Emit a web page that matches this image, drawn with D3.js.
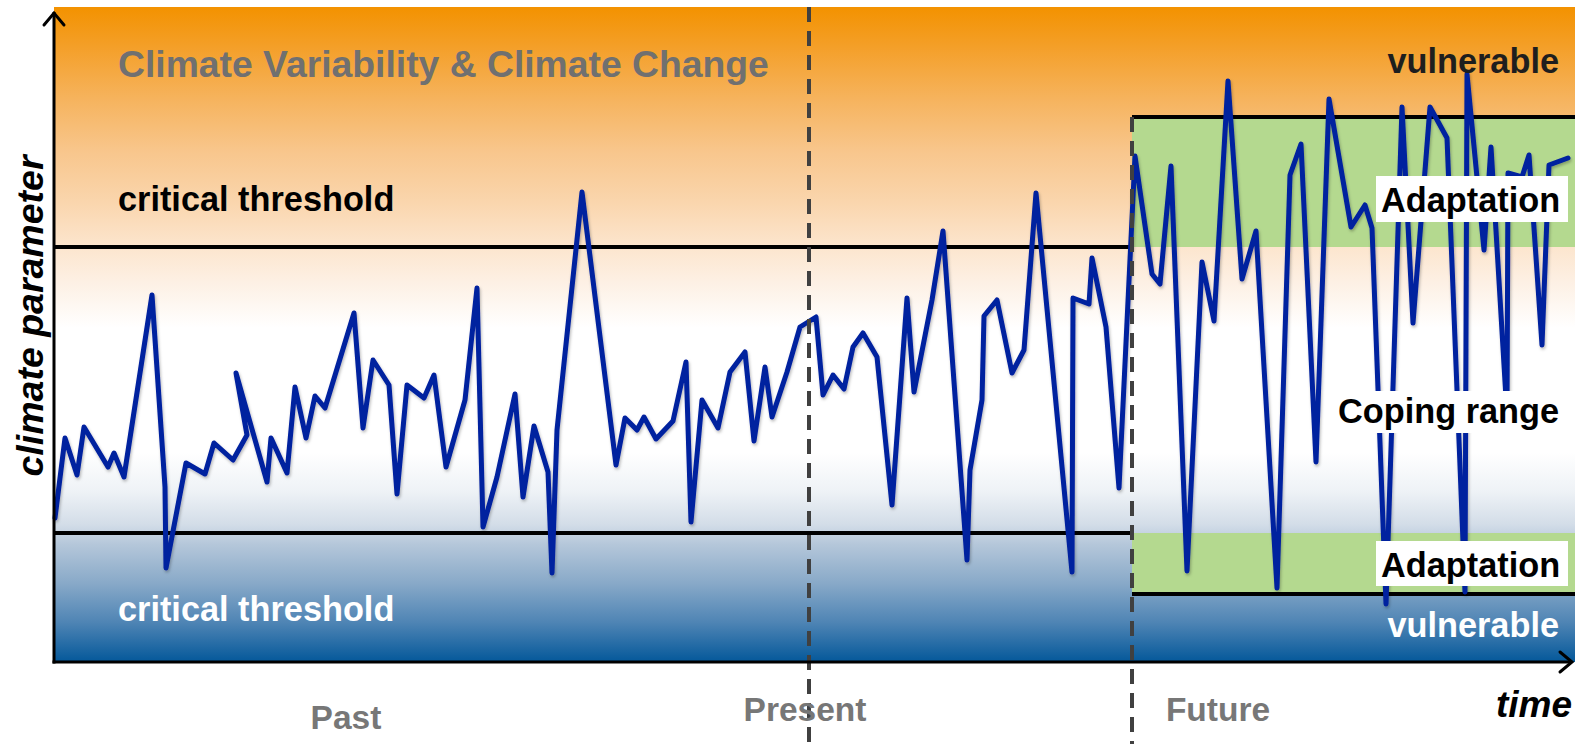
<!DOCTYPE html>
<html>
<head>
<meta charset="utf-8">
<script src="https://cdn.jsdelivr.net/npm/d3@7"></script>
<style>
  html, body { margin: 0; padding: 0; background: #ffffff; }
  svg { display: block; }
  text { font-family: "Liberation Sans", Arial, Helvetica, sans-serif; font-weight: bold; }
</style>
</head>
<body>
<svg id="chart" width="1575" height="744"></svg>
<script>
// ---- data (time units, climate parameter units) ----
const times = [0.1,1.1,2.3,3.0,5.4,6.0,7.0,9.8,11.1,11.2,13.2,15.1,16.0,17.9,19.3,18.2,21.3,21.7,23.3,24.1,
  25.2,26.1,27.1,30.0,30.9,31.9,33.5,34.3,35.3,37.0,38.0,39.2,41.1,42.3,42.9,44.3,46.1,46.9,48.0,49.4,
  49.8,50.3,52.8,56.2,57.1,58.3,59.0,60.2,61.9,63.2,63.7,64.8,66.4,67.6,69.1,70.0,71.1,71.8,73.3,74.6,
  76.2,76.9,77.9,79.0,79.9,80.9,82.3,83.8,85.3,86.0,87.8,88.9,91.3,91.6,92.8,93.0,94.3,95.8,97.0,98.2,
  101.8,101.9,103.5,103.8,105.2,106.5,108.1,109.8,110.6,111.7,113.3,114.8,116.0,117.4,118.8,120.2,122.3,123.6,124.7,126.2,
  127.5,129.7,131.1,131.8,133.2,134.8,135.9,137.6,139.3,141.1,141.3,143.0,143.7,145.3,145.4,146.8,147.5,148.8,149.5,151.4];
const values = [14.4,22.4,18.7,23.5,19.5,20.9,18.5,36.7,17.5,9.4,19.9,18.8,21.9,20.2,22.7,28.9,18.0,22.4,18.9,27.5,
  22.4,26.6,25.4,34.9,23.4,30.2,27.7,16.8,27.7,26.4,28.7,19.5,26.2,37.4,13.5,18.5,26.8,16.5,23.6,19.0,
  8.9,23.2,47.0,19.7,24.4,23.2,24.5,22.3,24.1,30.0,14.0,26.2,23.4,29.0,31.0,22.1,29.5,24.5,29.0,33.5,
  34.5,26.7,28.7,27.3,31.5,32.9,30.5,15.7,36.4,27.0,36.2,43.1,10.2,19.2,26.2,34.6,36.2,28.9,31.2,46.9,
  9.0,36.4,35.8,40.4,33.5,17.4,50.6,38.8,37.8,49.6,9.1,40.0,34.1,58.1,38.3,43.1,7.4,48.7,51.8,20.0,
  56.3,43.5,45.7,43.4,5.8,55.5,33.9,55.5,52.4,7.0,58.8,41.2,51.5,24.7,48.9,48.5,50.7,31.7,49.7,50.4];

const timeDomain = [0, 152.1];
const valueDomain = [0, 65.5];
const thresholds = { upper: 41.5, lower: 12.9 };           // critical thresholds (past/present)
const futureThresholds = { upper: 54.5, lower: 6.8 };      // shifted thresholds after adaptation
const eras = [ {name: "Present", t: 75.5}, {name: "Future", t: 107.8} ];
const eraLabels = [ {name: "Past", t: 29.2}, {name: "Present", t: 75.1}, {name: "Future", t: 116.4} ];

// ---- chart ----
const svg = d3.select("#chart");
const x = d3.scaleLinear().domain(timeDomain).range([54, 1575]);
const y = d3.scaleLinear().domain(valueDomain).range([662, 7]);

const defs = svg.append("defs");
const grad = defs.append("linearGradient").attr("id", "bg").attr("x1", 0).attr("y1", 0).attr("x2", 0).attr("y2", 1);
[
  [0.00, "#f39200"], [0.06, "#f49f28"], [0.14, "#f6b35d"], [0.22, "#f8c68c"],
  [0.30, "#fad6ae"], [0.36, "#fce4cb"], [0.42, "#fdf0e4"], [0.49, "#ffffff"],
  [0.68, "#ffffff"], [0.74, "#eef2f6"], [0.79, "#d3dde8"], [0.82, "#b5c7da"],
  [0.88, "#88a9c8"], [0.94, "#4e84b4"], [1.00, "#04589a"]
].forEach(([o, c]) => grad.append("stop").attr("offset", o).attr("stop-color", c));

const shadow = defs.append("filter").attr("id", "sh").attr("x", "-5%").attr("y", "-5%").attr("width", "110%").attr("height", "110%");
shadow.append("feDropShadow").attr("dx", 1).attr("dy", 2).attr("stdDeviation", 1.5)
  .attr("flood-color", "#000").attr("flood-opacity", 0.28);

// background
svg.append("rect")
  .attr("x", x(timeDomain[0])).attr("y", y(valueDomain[1]))
  .attr("width", x(timeDomain[1]) - x(timeDomain[0]))
  .attr("height", y(valueDomain[0]) - y(valueDomain[1]))
  .attr("fill", "url(#bg)");

// adaptation (green) bands in the future
const tFuture = eras[1].t;
svg.append("rect").attr("x", x(tFuture)).attr("y", y(futureThresholds.upper))
  .attr("width", x(timeDomain[1]) - x(tFuture))
  .attr("height", y(thresholds.upper) - y(futureThresholds.upper))
  .attr("fill", "#b4d98f");
svg.append("rect").attr("x", x(tFuture)).attr("y", y(thresholds.lower))
  .attr("width", x(timeDomain[1]) - x(tFuture))
  .attr("height", y(futureThresholds.lower) - y(thresholds.lower))
  .attr("fill", "#b4d98f");

// threshold lines
const tl = svg.append("g").attr("stroke", "#000").attr("stroke-width", 4);
tl.append("line").attr("x1", x(0)).attr("x2", x(tFuture)).attr("y1", y(thresholds.upper)).attr("y2", y(thresholds.upper));
tl.append("line").attr("x1", x(0)).attr("x2", x(tFuture)).attr("y1", y(thresholds.lower)).attr("y2", y(thresholds.lower));
tl.append("line").attr("x1", x(tFuture)).attr("x2", x(timeDomain[1])).attr("y1", y(futureThresholds.upper)).attr("y2", y(futureThresholds.upper));
tl.append("line").attr("x1", x(tFuture)).attr("x2", x(timeDomain[1])).attr("y1", y(futureThresholds.lower)).attr("y2", y(futureThresholds.lower));

// climate parameter series
const pts = times.map((t, i) => [t, values[i]]);
svg.append("path").datum(pts)
  .attr("d", d3.line().x(d => x(d[0])).y(d => y(d[1])))
  .attr("fill", "none").attr("stroke", "#00209f").attr("stroke-width", 5)
  .attr("stroke-linejoin", "round").attr("stroke-linecap", "round")
  .attr("filter", "url(#sh)");

// era dividers
svg.append("line").attr("x1", x(eras[0].t)).attr("x2", x(eras[0].t)).attr("y1", y(valueDomain[1])).attr("y2", 744)
  .attr("stroke", "#404040").attr("stroke-width", 4).attr("stroke-dasharray", "15,9");
svg.append("line").attr("x1", x(eras[1].t)).attr("x2", x(eras[1].t)).attr("y1", y(futureThresholds.upper)).attr("y2", 744)
  .attr("stroke", "#404040").attr("stroke-width", 4).attr("stroke-dasharray", "15,9");

// axes
const ax = svg.append("g").attr("stroke", "#000").attr("stroke-width", 3).attr("fill", "none");
ax.append("line").attr("x1", x(0)).attr("x2", x(0)).attr("y1", 12).attr("y2", y(0) + 1.5);
ax.append("path").attr("d", `M${x(0) - 10},${25} L${x(0)},${13} L${x(0) + 10},${25}`).attr("stroke-linecap", "round");
ax.append("line").attr("x1", x(0) - 1.5).attr("x2", 1572).attr("y1", y(0)).attr("y2", y(0));
ax.append("path").attr("d", `M${1560},${y(0) - 10} L${1572},${y(0)} L${1560},${y(0) + 10}`).attr("stroke-linecap", "round");

// labels
svg.append("text").attr("x", 118).attr("y", 77).attr("font-size", 37.3).attr("fill", "#707070")
  .text("Climate Variability & Climate Change");
svg.append("text").attr("x", 118).attr("y", 211).attr("font-size", 34.3).attr("fill", "#000").text("critical threshold");
svg.append("text").attr("x", 118).attr("y", 621).attr("font-size", 34.3).attr("fill", "#fff").text("critical threshold");
svg.append("text").attr("x", 1559).attr("y", 73).attr("text-anchor", "end").attr("font-size", 34.3).attr("fill", "#1e1e1e").text("vulnerable");
svg.append("text").attr("x", 1559).attr("y", 637).attr("text-anchor", "end").attr("font-size", 34.3).attr("fill", "#fff").text("vulnerable");

// boxed labels
function boxed(txt, bx, by, bw, bh, tx, ty) {
  svg.append("rect").attr("x", bx).attr("y", by).attr("width", bw).attr("height", bh).attr("fill", "#fff");
  svg.append("text").attr("x", tx).attr("y", ty).attr("font-size", 34.3).attr("fill", "#000").text(txt);
}
boxed("Adaptation", 1376, 176, 192, 46, 1381, 212);
boxed("Coping range", 1331, 391, 244, 42, 1338, 423);
boxed("Adaptation", 1376, 541, 192, 45, 1381, 577);

// era labels
eraLabels.forEach(e => {
  svg.append("text").attr("x", x(e.t)).attr("y", e.name === "Past" ? 729 : 721)
    .attr("text-anchor", "middle").attr("font-size", 33.5).attr("fill", "#777777").text(e.name);
});

// axis titles
svg.append("text").attr("x", 1496).attr("y", 717).attr("font-size", 37).attr("font-style", "italic").attr("fill", "#000").text("time");
svg.append("text").attr("transform", "translate(43,316) rotate(-90)").attr("text-anchor", "middle")
  .attr("font-size", 37.5).attr("font-style", "italic").attr("fill", "#000").text("climate parameter");
</script>
</body>
</html>
